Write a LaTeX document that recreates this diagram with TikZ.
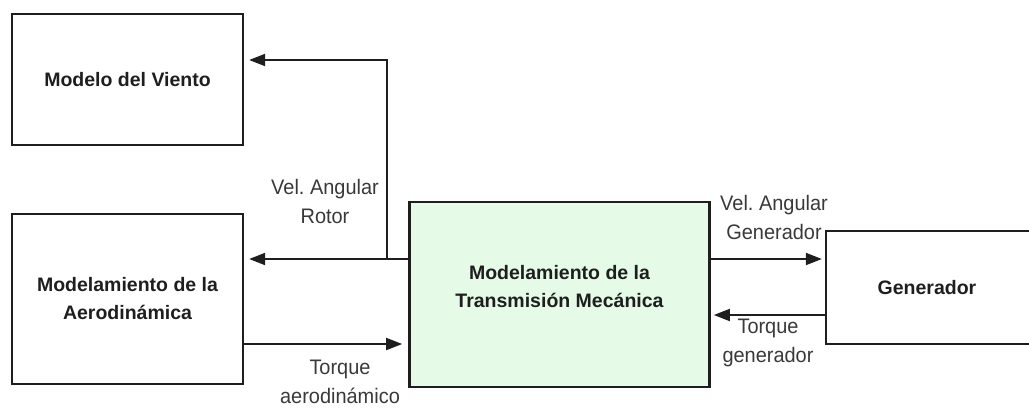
\documentclass[tikz,border=0pt]{standalone}
\usepackage{fontspec}
\setmainfont{Liberation Sans}
\newfontfamily\lblfont[FakeStretch=0.95]{Liberation Sans}
\usetikzlibrary{arrows.meta}
\frenchspacing
\definecolor{transfill}{RGB}{229,251,231}
\definecolor{ink}{RGB}{30,30,30}
\tikzset{
  block/.style={draw=ink, line width=2.3pt, rectangle, inner sep=0pt, align=center,
    text=ink, font=\fontsize{19.5}{28}\selectfont\bfseries},
  lbl/.style={align=center, inner sep=0pt, text=ink!88!white,
    font=\lblfont\fontsize{21}{29}\selectfont},
  arr/.style={draw=ink, line width=1.9pt, -{Triangle[length=16pt,width=12pt]}},
}
\begin{document}
\begin{tikzpicture}[x=1pt,y=-1pt]
\useasboundingbox (0,0) rectangle (1029,408);
\clip (0,0) rectangle (1029,408);
\node[block, minimum width=231pt, minimum height=131pt] (viento) at (127.5,79.5) {Modelo del Viento};
\node[block, minimum width=231pt, minimum height=170pt] (aero) at (127.5,299) {Modelamiento de la\\Aerodinámica};
\node[block, line width=2.7pt, fill=transfill, minimum width=300pt, minimum height=185pt] (trans) at (559.5,294.5) {Modelamiento de la\\Transmisión Mecánica\\[-11pt]};
\node[block, minimum width=214pt, minimum height=113pt] (gen) at (933,287.5) {Generador\hspace*{12pt}};
\coordinate (j) at (387,259);
\draw[arr, shorten >=5pt] (trans.west |- j) -- (aero.east |- j);
\draw[arr, shorten >=5pt] (j) |- (viento.east |- 0,60);
\draw[arr, shorten >=6pt] (aero.east |- 0,344) -- (trans.west |- 0,344);
\draw[arr, shorten >=3pt] (trans.east |- 0,259) -- (gen.west |- 0,259);
\draw[arr, shorten >=3pt] (gen.west |- 0,315) -- (trans.east |- 0,315);
\node[lbl, anchor=base] (l1) at (325,223) {Vel. Angular\\Rotor};
\node[lbl, anchor=base] (l2) at (340,403) {Torque\\aerodinámico};
\node[lbl, anchor=base] (l3) at (774,239) {Vel. Angular\\Generador};
\node[lbl, anchor=base] (l4) at (768,362) {Torque\\generador};
\end{tikzpicture}
\end{document}
